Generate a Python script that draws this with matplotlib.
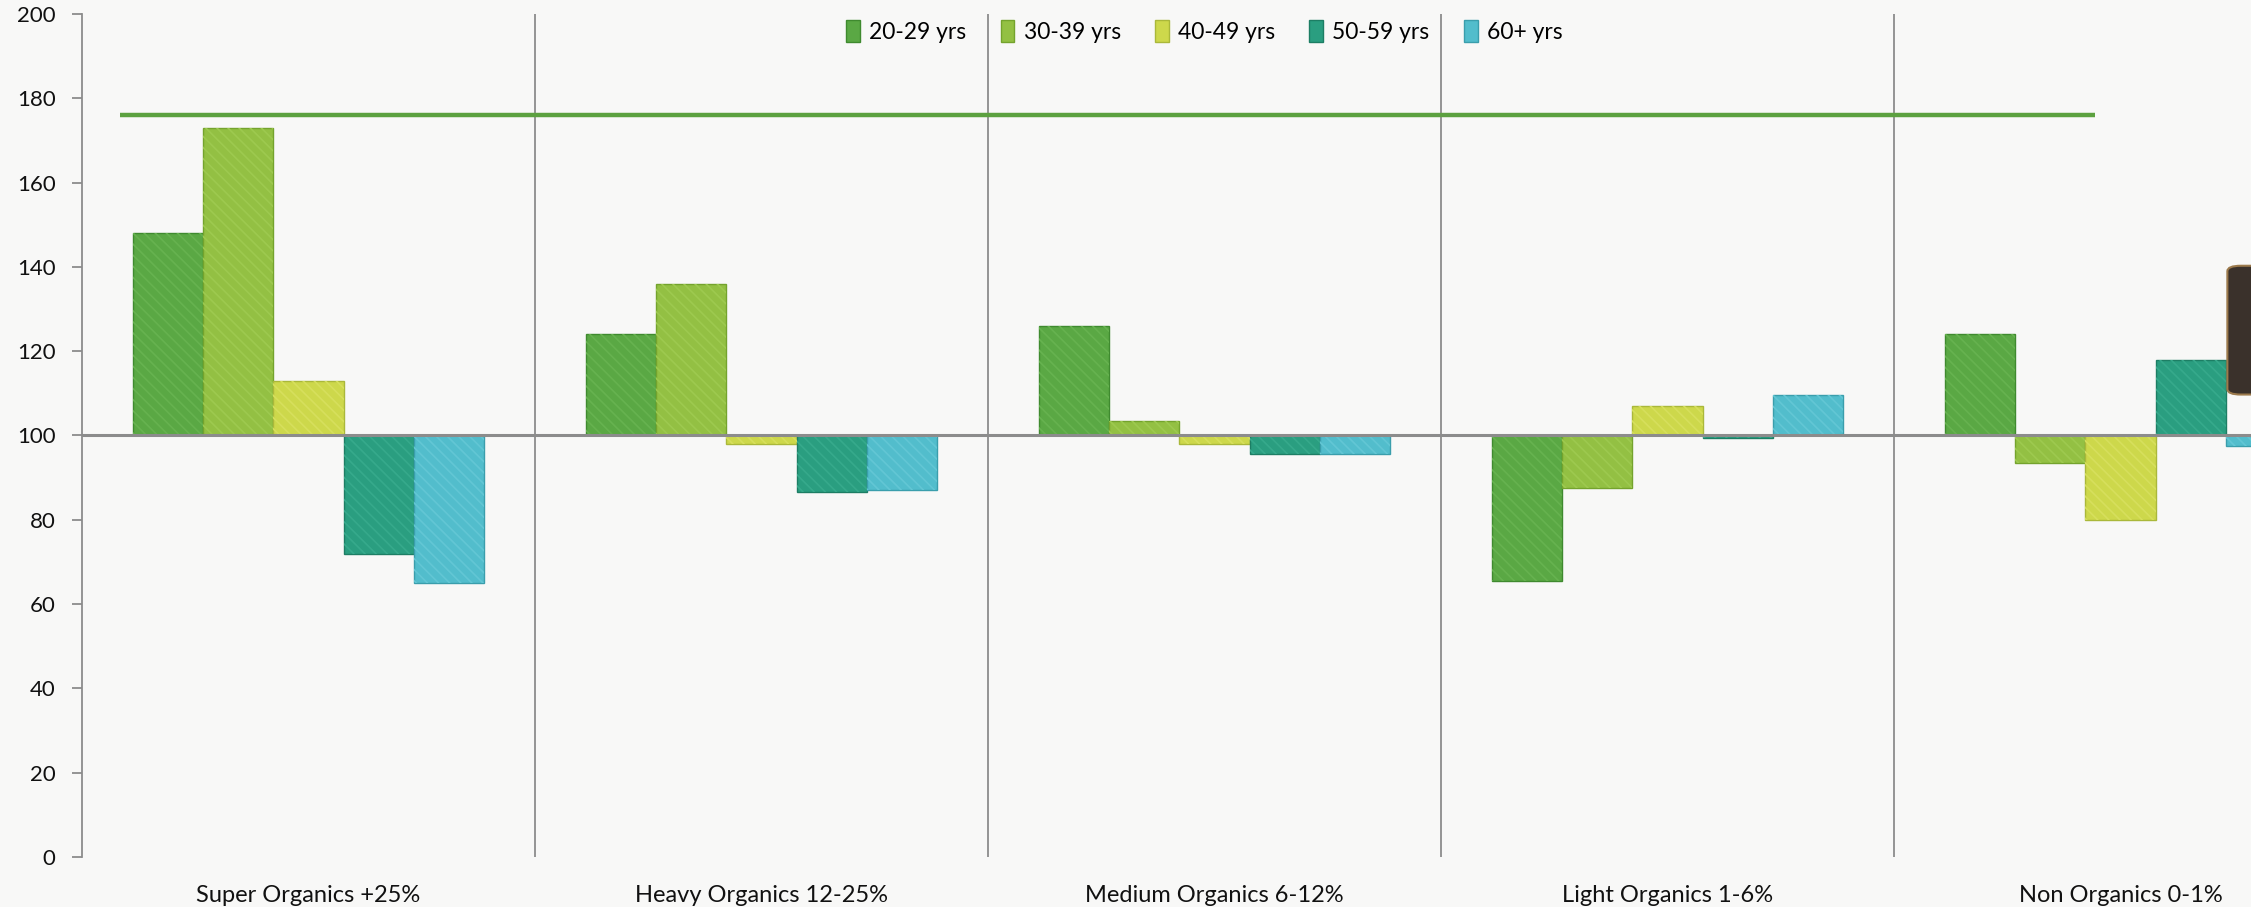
import matplotlib
matplotlib.use("Agg")
import matplotlib.pyplot as plt
import numpy as np
from matplotlib.patches import FancyBboxPatch

# index values (100 = average) per organic-buyer segment and age band
segments = ["Super Organics +25%", "Heavy Organics 12-25%", "Medium Organics 6-12%",
            "Light Organics 1-6%", "Non Organics 0-1%"]
age_bands = ["20-29 yrs", "30-39 yrs", "40-49 yrs", "50-59 yrs", "60+ yrs"]
idx_20_29 = [148, 124, 126, 65.5, 124]
idx_30_39 = [173, 136, 103.5, 87.5, 93.5]
idx_40_49 = [113, 98, 98, 107, 80]
idx_50_59 = [72, 86.5, 95.5, 99.5, 118]
idx_60_up = [65, 87, 95.5, 109.5, 97.5]
target_level = 176
baseline = 100

series = [idx_20_29, idx_30_39, idx_40_49, idx_50_59, idx_60_up]
colors = ["#5aa844", "#93c043", "#cdd84b", "#2a9e80", "#52bdcc"]
edges = ["#3f8a2f", "#74a32d", "#aab83a", "#1d7e64", "#3a9eac"]
hatch_cols = ["#66b24f", "#9dc94f", "#d6df5c", "#36a98b", "#62c6d4"]
bg = "#f8f8f7"

plt.rcParams["font.family"] = ["Lato", "DejaVu Sans"]
plt.rcParams["hatch.linewidth"] = 1.2

fig = plt.figure(figsize=(22.51, 9.07), dpi=100)
fig.patch.set_facecolor(bg)
ax = fig.add_axes([0.0364, 0.0551, 1.0063, 0.9295])
ax.set_facecolor(bg)

x = np.arange(len(segments))
w = 0.155
for k, (vals, lab) in enumerate(zip(series, age_bands)):
    vals = np.asarray(vals, dtype=float)
    pos = x + (k - 2) * w
    ax.bar(pos, vals - baseline, w, bottom=baseline, color=colors[k],
           edgecolor=edges[k], linewidth=1.0, label=lab, zorder=3)
    ax.bar(pos, vals - baseline, w, bottom=baseline, facecolor="none",
           edgecolor=hatch_cols[k], hatch="\\\\\\", linewidth=0, zorder=4)

# segment separators and 100 baseline
for xs in x[:-1] + 0.5:
    ax.plot([xs, xs], [0, 200], color="#8c8c8c", lw=1.3, zorder=2)
ax.axhline(baseline, color="#8c8c8c", lw=2.2, zorder=5)
ax.plot([-0.416, 3.944], [target_level, target_level], color="#5ca13f",
        lw=3.2, zorder=6, solid_capstyle="butt")

ax.set_xlim(-0.5, 4.5)
ax.set_ylim(0, 200)
ax.set_yticks(np.arange(0, 201, 20))
ax.set_xticks(x)
ax.set_xticklabels(segments, fontsize=17, color="#111111")
ax.tick_params(axis="x", length=0, pad=20)
ax.tick_params(axis="y", length=7, width=1.3, color="#8c8c8c", pad=12,
               labelsize=16, labelcolor="#111111")
for s in ["top", "right", "bottom"]:
    ax.spines[s].set_visible(False)
ax.spines["left"].set_color("#8c8c8c")
ax.spines["left"].set_linewidth(1.3)

leg = fig.legend(loc="center", bbox_to_anchor=(0.535, 0.965), ncol=5,
                 frameon=False, fontsize=16.5, handlelength=0.6, handleheight=1.1,
                 handletextpad=0.4, columnspacing=1.5)
for h in leg.legend_handles:
    h.set_hatch(None)

# dark tab at the right edge of the slide
fig.patches.append(FancyBboxPatch((0.9895, 0.565), 0.02, 0.142,
                                  boxstyle="round,pad=0,rounding_size=0.006",
                                  transform=fig.transFigure, facecolor="#3a312b",
                                  edgecolor="#9c7a4c", lw=1.5, zorder=10))

fig.savefig("out.png", dpi=100, facecolor=bg)
